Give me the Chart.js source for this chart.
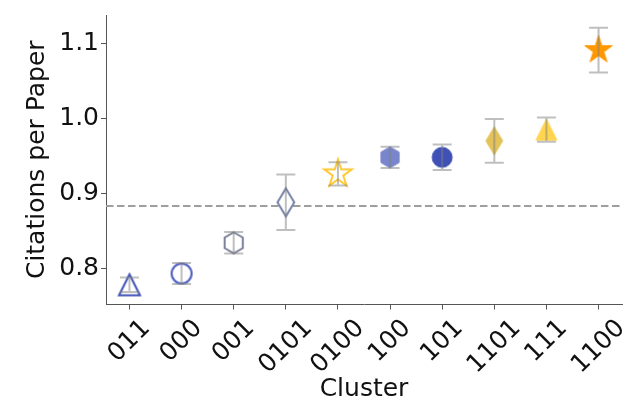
<!DOCTYPE html>
<html>
<head>
<meta charset="utf-8">
<script src="https://cdn.jsdelivr.net/npm/chart.js@4.4.1/dist/chart.umd.min.js"></script>
<style>
  html, body { margin: 0; padding: 0; background: #ffffff; }
  #chart { display: block; }
</style>
</head>
<body>
<canvas id="chart" width="641" height="405"></canvas>
<script>
// Cluster labels along the x axis, in plotted order
const clusters = ['011', '000', '001', '0101', '0100', '100', '101', '1101', '111', '1100'];
// Mean citations per paper for each cluster
const citations = [0.778, 0.793, 0.834, 0.888, 0.926, 0.948, 0.948, 0.970, 0.985, 1.091];
// Half-length of each error bar
const errors = [0.0096, 0.014, 0.0143, 0.037, 0.0154, 0.0143, 0.017, 0.0291, 0.0163, 0.0298];
// Overall average shown as the dashed reference line
const overallMean = 0.883;
// Y axis tick values
const yTicks = [0.8, 0.9, 1.0, 1.1];

// Marker appearance per cluster
const markerShapes = ['triangle', 'circle', 'hexagon', 'diamond', 'star', 'hexagon', 'circle', 'diamond', 'triangle', 'star'];
const markerColors = ['#3f51b5', '#4a5cbf', '#7b8098', '#7580a6', '#ffc935', '#7986cb', '#3f51b5', '#e2c259', '#ffd54f', '#ff9800'];
const markerFilled = [false, false, false, false, false, true, true, true, true, true];

const FONT = '"DejaVu Sans", "Liberation Sans", sans-serif';
const TEXT = '#111111';
const AXIS = '#555555';

function markerCanvas(shape, color, filled) {
  const c = document.createElement('canvas');
  c.width = 44; c.height = 44;
  const g = c.getContext('2d');
  g.translate(22, 22);
  g.beginPath();
  if (shape === 'circle') {
    g.arc(0, 0, 10, 0, Math.PI * 2);
  } else if (shape === 'triangle') {
    g.moveTo(0, -10.5); g.lineTo(10.5, 10.5); g.lineTo(-10.5, 10.5);
  } else if (shape === 'hexagon') {
    for (let k = 0; k < 6; k++) {
      const a = -Math.PI / 2 + k * Math.PI / 3;
      const px = 10.5 * Math.cos(a), py = 10.5 * Math.sin(a);
      k === 0 ? g.moveTo(px, py) : g.lineTo(px, py);
    }
  } else if (shape === 'diamond') {
    g.moveTo(0, -14); g.lineTo(8.4, 0); g.lineTo(0, 14); g.lineTo(-8.4, 0);
  } else if (shape === 'star') {
    const R = 14.5, r = R * 0.381966;
    for (let k = 0; k < 10; k++) {
      const a = -Math.PI / 2 + k * Math.PI / 5;
      const rr = k % 2 === 0 ? R : r;
      k === 0 ? g.moveTo(rr * Math.cos(a), rr * Math.sin(a)) : g.lineTo(rr * Math.cos(a), rr * Math.sin(a));
    }
  }
  g.closePath();
  g.fillStyle = filled ? color : '#ffffff';
  g.fill();
  g.strokeStyle = color;
  g.lineWidth = filled ? 1 : 2;
  g.stroke();
  return c;
}

const pointStyles = markerShapes.map((s, i) => markerCanvas(s, markerColors[i], markerFilled[i]));
const X_MIN = -0.45, X_MAX = clusters.length - 1 + 0.45;

// Vertical error bars with caps, drawn over the markers
const errorBars = {
  id: 'errorBars',
  afterDatasetsDraw(chart) {
    const xs = chart.scales.x, ys = chart.scales.y, ctx = chart.ctx;
    ctx.save();
    ctx.strokeStyle = 'rgba(128,128,128,0.5)';
    ctx.lineWidth = 2;
    citations.forEach((v, i) => {
      const x = xs.getPixelForValue(i);
      const lo = ys.getPixelForValue(v - errors[i]);
      const hi = ys.getPixelForValue(v + errors[i]);
      ctx.beginPath();
      ctx.moveTo(x, lo); ctx.lineTo(x, hi);
      ctx.moveTo(x - 9.5, lo); ctx.lineTo(x + 9.5, lo);
      ctx.moveTo(x - 9.5, hi); ctx.lineTo(x + 9.5, hi);
      ctx.stroke();
    });
    ctx.restore();
  }
};

// Category labels under the x axis, rotated 45 degrees and centred on each tick
const rotatedLabels = {
  id: 'rotatedLabels',
  afterDraw(chart) {
    const xs = chart.scales.x, ctx = chart.ctx;
    const size = 25;
    ctx.save();
    ctx.font = size + 'px ' + FONT;
    ctx.fillStyle = TEXT;
    ctx.textAlign = 'center';
    ctx.textBaseline = 'alphabetic';
    const boxTop = xs.top + 8.2;
    const lineH = 1.164 * size;
    clusters.forEach((label, i) => {
      const w = ctx.measureText(label).width;
      const cx = xs.getPixelForValue(i) - 1.5;
      const cy = boxTop + (w + lineH) * Math.SQRT1_2 / 2;
      ctx.save();
      ctx.translate(cx, cy);
      ctx.rotate(-Math.PI / 4);
      ctx.fillText(label, 0, 0.346 * size);
      ctx.restore();
    });
    ctx.restore();
  }
};

new Chart(document.getElementById('chart'), {
  data: {
    datasets: [
      {
        type: 'scatter',
        data: citations.map((v, i) => ({ x: i, y: v })),
        pointStyle: pointStyles,
        pointRadius: 10,
        order: 1
      },
      {
        type: 'line',
        data: [{ x: X_MIN, y: overallMean }, { x: X_MAX, y: overallMean }],
        borderColor: '#9e9e9e',
        borderWidth: 2,
        borderDash: [7.5, 3.5],
        pointRadius: 0,
        fill: false,
        order: 2
      }
    ]
  },
  options: {
    responsive: false,
    animation: false,
    events: [],
    layout: { padding: { left: 0, right: 19, top: 15, bottom: 0 } },
    plugins: { legend: { display: false }, tooltip: { enabled: false } },
    scales: {
      x: {
        type: 'linear',
        min: X_MIN,
        max: X_MAX,
        afterBuildTicks(scale) { scale.ticks = clusters.map((_, i) => ({ value: i })); },
        afterFit(scale) { scale.height = 100.5; scale.paddingLeft = 0; scale.paddingRight = 0; },
        ticks: { display: false },
        grid: { display: true, drawOnChartArea: false, drawTicks: true, tickLength: 5, color: AXIS, lineWidth: 1 },
        border: { display: true, color: AXIS, width: 1 },
        title: { display: true, text: 'Cluster', color: TEXT, font: { family: FONT, size: 25 }, padding: { top: 0, bottom: 0.5 } }
      },
      y: {
        type: 'linear',
        min: 0.7517,
        max: 1.1379,
        afterBuildTicks(scale) { scale.ticks = yTicks.map(v => ({ value: v })); },
        afterFit(scale) { scale.width = 106; scale.paddingTop = 0; scale.paddingBottom = 0; },
        ticks: { color: TEXT, font: { family: FONT, size: 25 }, padding: 2, callback: v => v.toFixed(1) },
        grid: { display: true, drawOnChartArea: false, drawTicks: true, tickLength: 5, color: AXIS, lineWidth: 1 },
        border: { display: true, color: AXIS, width: 1 },
        title: { display: true, text: 'Citations per Paper', color: TEXT, font: { family: FONT, size: 25 }, padding: { top: 22.5, bottom: 0 } }
      }
    }
  },
  plugins: [errorBars, rotatedLabels]
});
</script>
</body>
</html>
